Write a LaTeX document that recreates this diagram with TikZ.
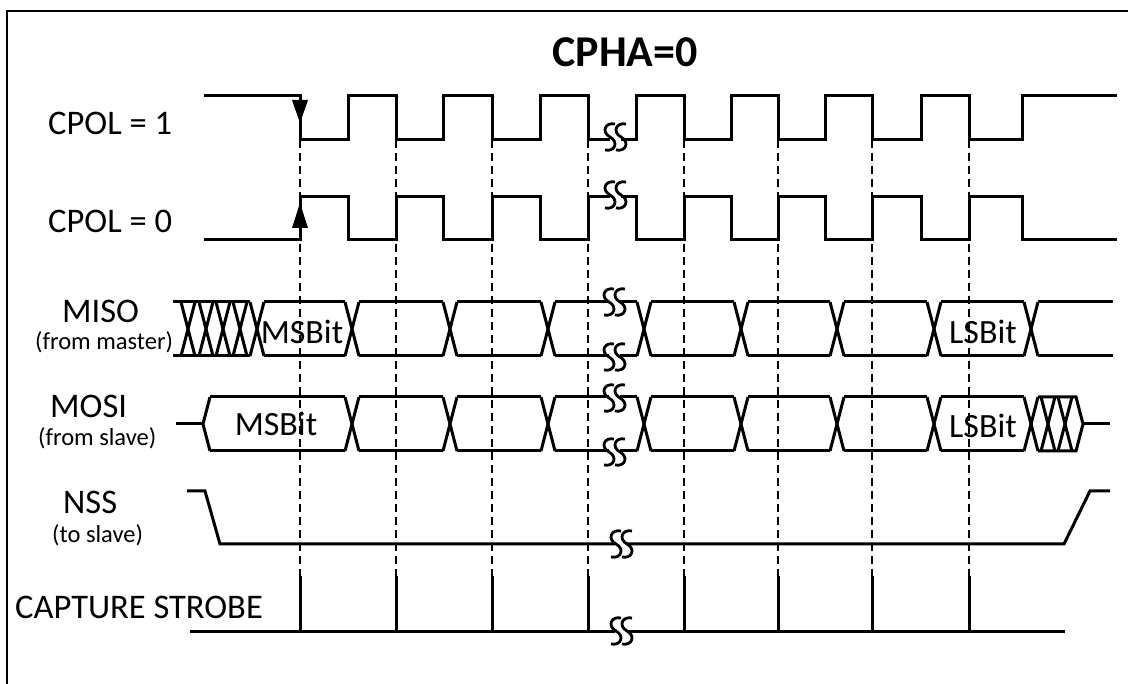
\documentclass[tikz,border=0pt]{standalone}
\usepackage{fontspec}
\setmainfont{Carlito}
\begin{document}
\begin{tikzpicture}[x=1pt,y=-1pt,
  sig/.style={line width=3pt, line join=miter, line cap=butt},
  guideline/.style={line width=2.6pt, dash pattern=on 8pt off 5pt},
  brkline/.style={line width=2.8pt},
  lbl/.style={inner sep=0pt, anchor=base west, font=\fontsize{34.5}{36}\selectfont},
  sublbl/.style={inner sep=0pt, anchor=base west, font=\fontsize{24.5}{27}\selectfont},
  bitlbl/.style={inner sep=0pt, font=\fontsize{34}{36}\selectfont},
  ttl/.style={inner sep=0pt, anchor=base, font=\fontsize{44}{46}\selectfont\bfseries}]
\useasboundingbox (0,0) rectangle (1128,684);
% frame
\draw[line width=2.6pt] (7,684) -- (7,11) -- (1128,11);
% title
\node[ttl] (title) at (625,67) {CPHA=0};
% labels
\node[lbl] (cpol1) at (48,135) {CPOL = 1};
\node[lbl] (cpol0) at (48,233) {CPOL = 0};
\node[lbl] (miso) at (62,323) {MISO};
\node[sublbl] (misosub) at (35,350) {(from master)};
\node[lbl] (mosi) at (50,418) {MOSI};
\node[sublbl] (mosisub) at (38,446) {(from slave)};
\node[lbl] (nss) at (63,514) {NSS};
\node[sublbl] (nsssub) at (52,543) {(to slave)};
\node[lbl] (cap) at (15,618) {CAPTURE STROBE};
% break mark macro
\newcommand\brkmark[2]{%
  \foreach \a in {#1-5,#1+6}{
    \draw[brkline] (\a+5,#2-13) .. controls (\a-5,#2-15) and (\a-9,#2-5) .. (\a,#2)
      .. controls (\a+9,#2+5) and (\a+5,#2+15) .. (\a-5,#2+13);
  }}
% dashed guide lines and strobes
\foreach \x in {300,396,492,588,684,778,872,969}{
  \draw[guideline] (\x,140) -- (\x,576);
  \draw[sig] (\x,576) -- (\x,631);
}
% CPOL = 1
\draw[sig] (204,96) -- (300,96) -- (300,140) -- (348,140) -- (348,96) -- (396,96) -- (396,140)
  -- (443,140) -- (443,96) -- (492,96) -- (492,140) -- (540,140) -- (540,96) -- (588,96)
  -- (588,140) -- (610,140);
\draw[sig] (621,140) -- (636,140) -- (636,96) -- (684,96) -- (684,140) -- (731,140) -- (731,96)
  -- (778,96) -- (778,140) -- (825,140) -- (825,96) -- (872,96) -- (872,140) -- (921,140)
  -- (921,96) -- (969,96) -- (969,140) -- (1022,140) -- (1022,96) -- (1117,96);
\brkmark{615}{137}
\fill (292,100) -- (308,100) -- (300,123) -- cycle;
% CPOL = 0
\draw[sig] (204,240) -- (300,240) -- (300,197) -- (348,197) -- (348,240) -- (396,240) -- (396,197)
  -- (443,197) -- (443,240) -- (492,240) -- (492,197) -- (540,197) -- (540,240) -- (588,240)
  -- (588,197) -- (610,197);
\draw[sig] (621,197) -- (636,197) -- (636,240) -- (684,240) -- (684,197) -- (731,197) -- (731,240)
  -- (778,240) -- (778,197) -- (825,197) -- (825,240) -- (872,240) -- (872,197) -- (921,197)
  -- (921,240) -- (969,240) -- (969,197) -- (1022,197) -- (1022,240) -- (1117,240);
\brkmark{615}{195}
\fill (292,228) -- (308,228) -- (300,203) -- cycle;
% MISO
\def\T{302}\def\B{356}
\draw[sig] (173,\T) -- (250,\T);
\draw[sig] (173,\B) -- (250,\B);
\foreach \c in {188,206,223,240,257,352,450,548,644,741,837,934,1031}{
  \draw[sig] (\c-7,\T) -- (\c+7,\B);
  \draw[sig] (\c-7,\B) -- (\c+7,\T);
}
\foreach \p/\q in {257/352,352/450,450/548,644/741,741/837,837/934,934/1031}{
  \draw[sig] (\p+7,\T) -- (\q-7,\T);
  \draw[sig] (\p+7,\B) -- (\q-7,\B);
}
\draw[sig] (555,\T) -- (609,\T); \draw[sig] (620,\T) -- (637,\T);
\draw[sig] (555,\B) -- (609,\B); \draw[sig] (620,\B) -- (637,\B);
\draw[sig] (1038,\T) -- (1113,\T);
\draw[sig] (1038,\B) -- (1113,\B);
\brkmark{614}{302}
\brkmark{614}{357}
\node[bitlbl] (misomsb) at (302,332) {MSBit};
\node[bitlbl] (misolsb) at (983,332) {LSBit};
% MOSI
\def\T{397}\def\B{451}
\draw[sig] (176,424) -- (203,424);
\draw[sig] (210,\T) -- (203,424) -- (210,\B);
\draw[sig] (210,\T) -- (345,\T);
\draw[sig] (210,\B) -- (345,\B);
\foreach \c in {352,450,548,644,741,837,934,1031,1048,1065}{
  \draw[sig] (\c-7,\T) -- (\c+7,\B);
  \draw[sig] (\c-7,\B) -- (\c+7,\T);
}
\foreach \p/\q in {352/450,450/548,644/741,741/837,837/934,934/1031}{
  \draw[sig] (\p+7,\T) -- (\q-7,\T);
  \draw[sig] (\p+7,\B) -- (\q-7,\B);
}
\draw[sig] (555,\T) -- (609,\T); \draw[sig] (620,\T) -- (637,\T);
\draw[sig] (555,\B) -- (609,\B); \draw[sig] (620,\B) -- (637,\B);
\draw[sig] (1038,\T) -- (1076,\T) -- (1083,424) -- (1076,\B) -- (1038,\B);
\draw[sig] (1083,424) -- (1110,424);
\brkmark{614}{398}
\brkmark{614}{452}
\node[bitlbl] (mosimsb) at (276,424) {MSBit};
\node[bitlbl] (mosilsb) at (983,426) {LSBit};
% NSS
\draw[sig] (187,491) -- (205,491) -- (220,544) -- (615,544);
\draw[sig] (627,544) -- (1064,544) -- (1090,491) -- (1110,491);
\brkmark{621}{544}
% capture strobe base
\draw[sig] (190,631) -- (615,631);
\draw[sig] (627,631) -- (1065,631);
\brkmark{621}{631}
\end{tikzpicture}
\end{document}
